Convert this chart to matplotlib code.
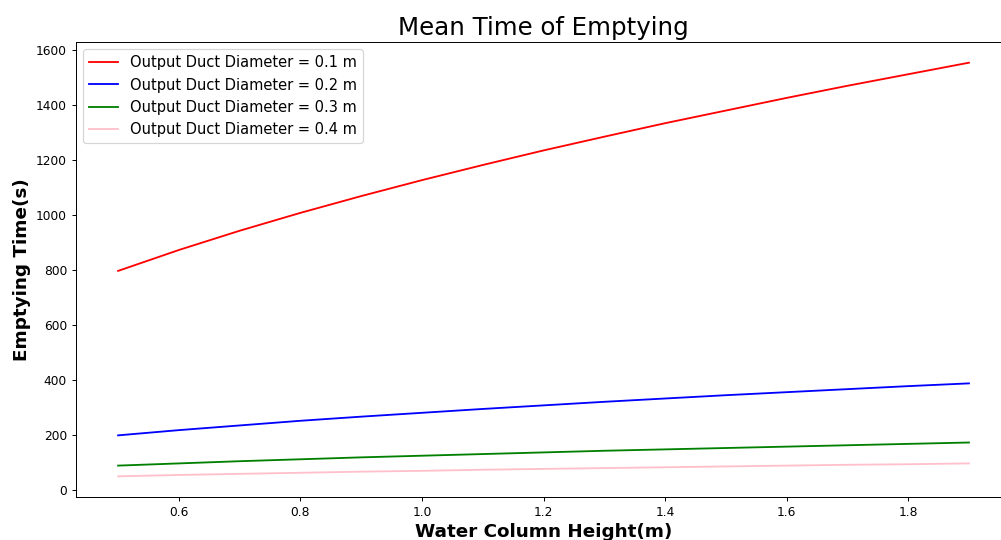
import numpy as np
import matplotlib
matplotlib.use('Agg')
import matplotlib.pyplot as plt

# altura da coluna d'agua (m)
heights = [0.5, 0.6, 0.7, 0.8, 0.9, 1.0, 1.1, 1.2, 1.3, 1.4, 1.5, 1.6, 1.7, 1.8, 1.9]

# tempos (s)
t_d01 = [797, 873, 943, 1008, 1069, 1127, 1182, 1235, 1285, 1334, 1380, 1426, 1470, 1512, 1554]
t_d02 = [199, 218, 235, 252, 267, 281, 295, 308, 321, 333, 345, 356, 367, 378, 388]
t_d03 = [89, 97, 105, 112, 119, 125, 131, 137, 143, 148, 153, 158, 163, 168, 173]
t_d04 = [50, 55, 59, 63, 67, 70, 74, 77, 80, 83, 86, 89, 92, 94, 97]

labels = ['Output Duct Diameter = 0.1 m', 'Output Duct Diameter = 0.2 m',
          'Output Duct Diameter = 0.3 m', 'Output Duct Diameter = 0.4 m']
colors = ['red', 'blue', 'green', 'pink']

DPI = 88
fig = plt.figure(figsize=(1001 / DPI, 540 / DPI), dpi=DPI)
ax = fig.add_axes([0.0755, 0.0796, 0.935, 0.8426])

for t, lab, c in zip([t_d01, t_d02, t_d03, t_d04], labels, colors):
    ax.plot(heights, t, color=c, label=lab, linewidth=1.5)

ax.set_title('Mean Time of Emptying', fontsize=20)
ax.set_xlabel('Water Column Height(m)', fontsize=15, fontweight='bold')
ax.set_ylabel('Emptying Time(s)', fontsize=15, fontweight='bold')
ax.set_xticks([0.6, 0.8, 1.0, 1.2, 1.4, 1.6, 1.8])
ax.legend(loc='upper left', fontsize=12)

fig.savefig('out.png', dpi=DPI)
